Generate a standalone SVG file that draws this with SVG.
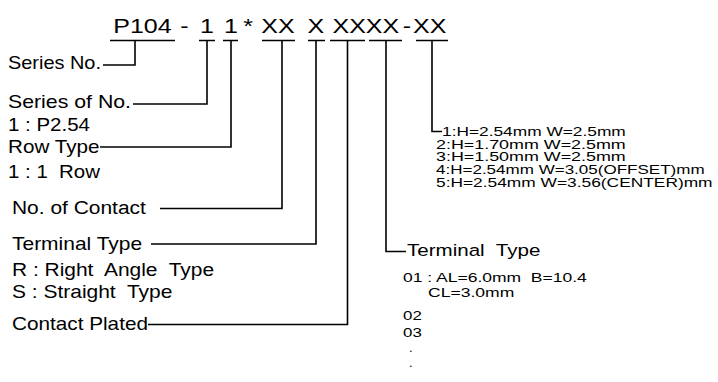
<svg xmlns="http://www.w3.org/2000/svg" width="718" height="382" viewBox="0 0 718 382">
<style>
text{font-family:"Liberation Sans",Arial,sans-serif;fill:#000;white-space:pre}
.t{font-size:20px}
.l{font-size:18px}
.s{font-size:12px}
.m{font-size:13px}
.r{font-size:17px}
.c{text-anchor:middle}
.ln{fill:none;stroke:#000;stroke-width:1.6}
</style>
<rect width="718" height="382" fill="#fff"/>
<g id="code">
<text class="t" transform="translate(113.3,32.5) scale(1.25,1)">P104</text>
<text class="t c" transform="translate(184.5,32.5) scale(1.25,1)">-</text>
<text class="t c" transform="translate(207,32.5) scale(1.25,1)">1</text>
<text class="t c" transform="translate(231,32.5) scale(1.25,1)">1</text>
<text class="t c" transform="translate(248,32.5) scale(1.25,1)">*</text>
<text class="t" transform="translate(261.3,32.5) scale(1.25,1)">XX</text>
<text class="t" transform="translate(307.6,32.5) scale(1.25,1)">X</text>
<text class="t" transform="translate(332.5,32.5) scale(1.25,1)">XXXX</text>
<text class="t c" transform="translate(407,32.5) scale(1.25,1)">-</text>
<text class="t" transform="translate(413,32.5) scale(1.25,1)">XX</text>
</g>
<g id="connectors" class="ln">
<path d="M110,40.5H175M199,40.5H215M223,40.5H238M262,40.5H295M308,40.5H325M330,40.5H365M369,40.5H402M416,40.5H448"/>
<path d="M135,40.5V65H103"/>
<path d="M207,40.5V104H133"/>
<path d="M231,40.5V147H100"/>
<path d="M282,40.5V208.5H160"/>
<path d="M316,40.5V244H151"/>
<path d="M347.5,40.5V324.5H148"/>
<path d="M386,40.5V251.5H406"/>
<path d="M432,40.5V131.5H442"/>
</g>
<g id="series-no"><text class="l" transform="translate(8,69) scale(1.107,1)">Series No.</text></g>
<g id="series-of-no">
<text class="l" transform="translate(8,108) scale(1.183,1)">Series of No.</text>
<text class="l" transform="translate(8,131) scale(1.138,1)">1 : P2.54</text>
</g>
<g id="row-type">
<text class="l" transform="translate(8,153) scale(1.148,1)">Row Type</text>
<text class="l" transform="translate(8,178) scale(1.136,1)">1 : 1  Row</text>
</g>
<g id="no-of-contact"><text class="l" transform="translate(12,214) scale(1.164,1)">No. of Contact</text></g>
<g id="terminal-type-left">
<text class="l" transform="translate(12,250) scale(1.165,1)">Terminal Type</text>
<text class="l" transform="translate(12,276) scale(1.164,1)">R : Right  Angle  Type</text>
<text class="l" transform="translate(12,298) scale(1.165,1)">S : Straight  Type</text>
</g>
<g id="contact-plated"><text class="l" transform="translate(12,330) scale(1.152,1)">Contact Plated</text></g>
<g id="hw-options">
<text class="s" transform="translate(442,136) scale(1.444,1)">1:H=2.54mm W=2.5mm</text>
<text class="s" transform="translate(436,148.7) scale(1.491,1)">2:H=1.70mm W=2.5mm</text>
<text class="s" transform="translate(436,161.4) scale(1.491,1)">3:H=1.50mm W=2.5mm</text>
<text class="s" transform="translate(436,174.1) scale(1.42,1)">4:H=2.54mm W=3.05(OFFSET)mm</text>
<text class="s" transform="translate(436,186.8) scale(1.447,1)">5:H=2.54mm W=3.56(CENTER)mm</text>
</g>
<g id="terminal-type-right">
<text class="r" transform="translate(407,256) scale(1.21,1)">Terminal  Type</text>
<text class="m" transform="translate(403,281.5) scale(1.347,1)">01 : AL=6.0mm  B=10.4</text>
<text class="m" transform="translate(428,297) scale(1.35,1)">CL=3.0mm</text>
<text class="m" transform="translate(403,320) scale(1.3,1)">02</text>
<text class="m" transform="translate(403,337) scale(1.3,1)">03</text>
<text class="m" x="409" y="352">.</text>
<text class="m" x="409" y="367">.</text>
</g>
</svg>
